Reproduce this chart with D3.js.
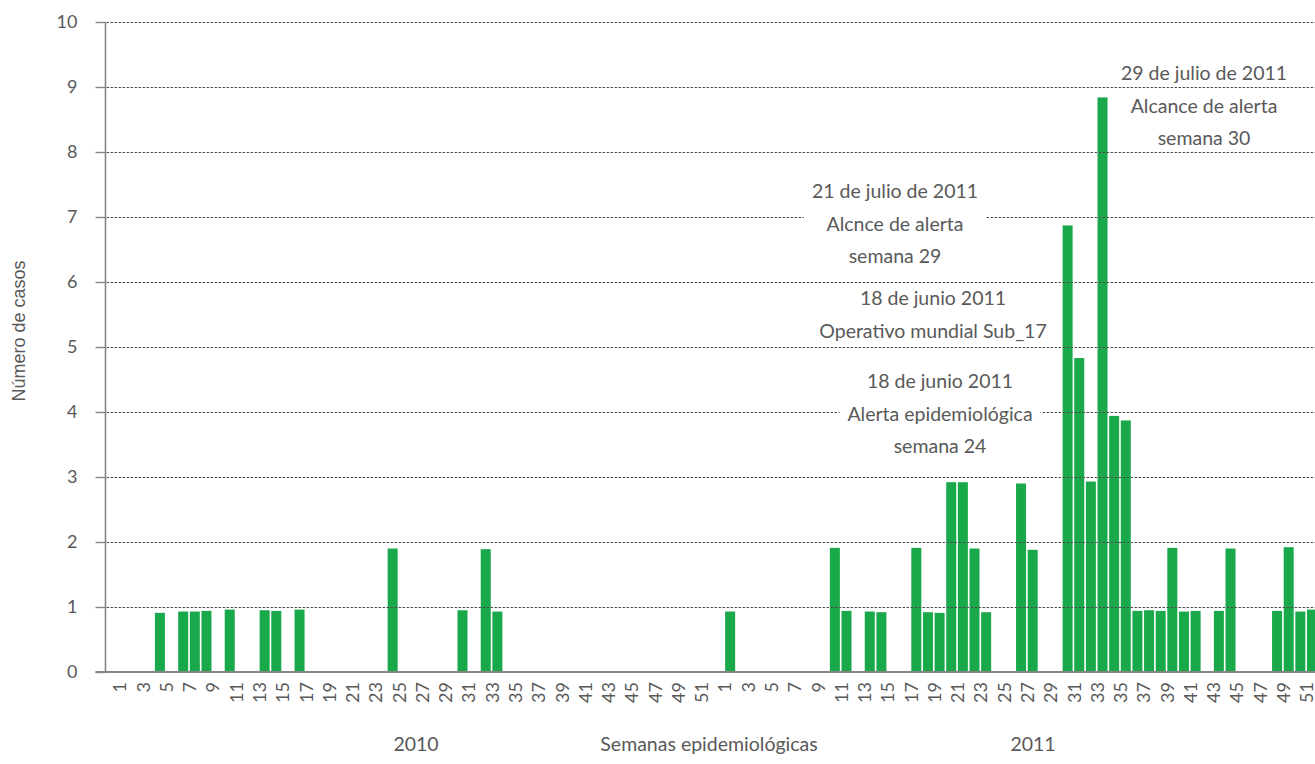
<!DOCTYPE html>
<html><head><meta charset="utf-8">
<script src="https://cdn.jsdelivr.net/npm/d3@7"></script>
<style>body{margin:0;background:#fff;overflow:hidden} svg{display:block}</style>
</head><body>
<svg id="chart" width="1315" height="764"></svg>
<script>
// ---------- data ----------
const years = ["2010", "2011"];
const weeks = d3.range(1, 53);
const cases2010 = [0,0,0,0.91,0,0.93,0.93,0.94,0,0.96,0,0,0.95,0.94,0,0.96,0,0,0,0,0,0,0,1.9,0,0,0,0,0,0.95,0,1.89,0.93,0,0,0,0,0,0,0,0,0,0,0,0,0,0,0,0,0,0,0];
const cases2011 = [0.93,0,0,0,0,0,0,0,0,1.91,0.94,0,0.93,0.92,0,0,1.91,0.92,0.91,2.92,2.92,1.9,0.92,0,0,2.9,1.88,0,0,6.87,4.83,2.93,8.84,3.94,3.87,0.94,0.95,0.94,1.91,0.93,0.94,0,0.94,1.9,0,0,0,0.94,1.92,0.93,0.96,0];
const yTickValues = [0,1,2,3,4,5,6,7,8,9,10];
const yTitle = "Número de casos";
const xTitle = "Semanas epidemiológicas";
const notes = [
  {lines:["29 de julio de 2011","Alcance de alerta","semana 30"], box:false},
  {lines:["21 de julio de 2011","Alcnce de alerta","semana 29"], box:true},
  {lines:["18 de junio 2011","Operativo mundial Sub_17"], box:false},
  {lines:["18 de junio 2011","Alerta epidemiológica","semana 24"], box:true}
];

// ---------- layout ----------
const svg = d3.select("#chart");
const W = 1315, H = 764;
const axisX = 105.5, baseY = 672, topY = 22;
const step = 11.637, x0 = 125 - step / 2;
const textColor = "#595959";
const calibri = "Lato, 'Open Sans', sans-serif";

const rows = [];
years.forEach((yr, yi) => {
  const vals = yi === 0 ? cases2010 : cases2011;
  weeks.forEach((w, wi) => rows.push({key: yr + "-" + w, year: yr, week: w, value: vals[wi]}));
});

const x = d3.scaleBand()
  .domain(rows.map(d => d.key))
  .range([x0, x0 + step * rows.length])
  .paddingInner(0.14).paddingOuter(0.07);
const y = d3.scaleLinear().domain([0, 10]).range([baseY, topY]);

// bars
svg.append("g").selectAll("rect")
  .data(rows.filter(d => d.value > 0))
  .join("rect")
  .attr("x", d => x(d.key))
  .attr("width", x.bandwidth())
  .attr("y", d => y(d.value))
  .attr("height", d => y(0) - y(d.value))
  .attr("fill", "#19a94b");

// grid lines (drawn over bars, as in the reference)
svg.append("g").selectAll("line")
  .data(yTickValues.filter(v => v > 0))
  .join("line")
  .attr("x1", axisX + 1).attr("x2", W)
  .attr("y1", d => Math.round(y(d)) + 0.5).attr("y2", d => Math.round(y(d)) + 0.5)
  .attr("stroke", "#4d4d4d").attr("stroke-width", 1)
  .attr("stroke-dasharray", "2.5,1.5");

// y axis
const yAxis = svg.append("g")
  .attr("transform", `translate(${axisX},0)`)
  .call(d3.axisLeft(y).tickValues(yTickValues).tickSize(10).tickPadding(18).tickFormat(d3.format("d")));
yAxis.select(".domain").attr("stroke", "#868686").attr("stroke-width", 1.6)
  .attr("d", `M0,${topY}V${baseY}`);
yAxis.selectAll(".tick line").attr("stroke", "#868686").attr("stroke-width", 1.4);
yAxis.selectAll(".tick text").attr("fill", textColor)
  .style("font-family", calibri).style("font-size", "18px");

// x axis
const xAxis = svg.append("g")
  .attr("transform", `translate(0,${baseY})`)
  .call(d3.axisBottom(x)
    .tickValues(rows.filter(d => d.week % 2 === 1).map(d => d.key))
    .tickFormat(k => k.split("-")[1])
    .tickSize(0));
xAxis.select(".domain").attr("stroke", "#868686").attr("stroke-width", 1.8)
  .attr("d", `M${axisX - 10},0H${W}`);
xAxis.selectAll(".tick text")
  .attr("fill", textColor)
  .style("font-family", calibri).style("font-size", "18px")
  .attr("text-anchor", "end")
  .attr("transform", "rotate(-90)")
  .attr("x", -10).attr("y", -5).attr("dy", "0.35em");

// year labels and x title
const bottom = svg.append("g").attr("fill", textColor)
  .style("font-family", calibri).style("font-size", "19.5px").attr("text-anchor", "middle");
bottom.append("text").attr("x", 416).attr("y", 751).text(years[0]);
bottom.append("text").attr("x", 709).attr("y", 751).text(xTitle);
bottom.append("text").attr("x", 1033).attr("y", 751).text(years[1]);

// y title
svg.append("text")
  .attr("transform", "translate(25,331) rotate(-90)")
  .attr("text-anchor", "middle").attr("fill", textColor)
  .style("font-family", "'Liberation Sans', Arial, sans-serif").style("font-size", "18px")
  .text(yTitle);

// annotations
const notePos = [
  {cx: 1204, base: 80},
  {cx: 895, base: 198},
  {cx: 933, base: 305},
  {cx: 940, base: 388}
];
const lineGap = 32.5;
notes.forEach((n, i) => {
  const p = notePos[i];
  const g = svg.append("g");
  const t = g.append("text").attr("text-anchor", "middle").attr("fill", textColor)
    .style("font-family", calibri).style("font-size", "19.5px");
  n.lines.forEach((ln, li) => t.append("tspan").attr("x", p.cx).attr("y", p.base + li * lineGap).text(ln));
  if (n.box) {
    const bb = t.node().getBBox();
    g.insert("rect", "text")
      .attr("x", bb.x - 8).attr("y", bb.y - 4)
      .attr("width", bb.width + 16).attr("height", bb.height + 8)
      .attr("fill", "#fff");
  }
});
</script>
</body></html>
